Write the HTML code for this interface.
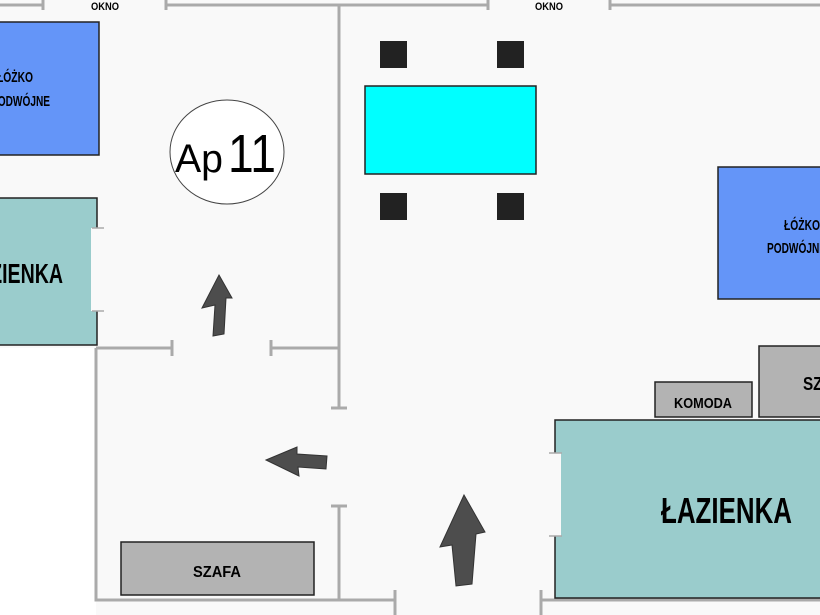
<!DOCTYPE html><html><head><style>body{margin:0;background:#fff}svg{display:block}
text.c{font-family:"Liberation Sans",sans-serif;font-weight:bold}</style></head><body>
<svg width="820" height="615" xmlns="http://www.w3.org/2000/svg">
<rect x="0" y="0" width="820" height="348" fill="#f9f9f9"/>
<rect x="96" y="348" width="724" height="267" fill="#f9f9f9"/>
<g stroke="#aaa" stroke-width="3" fill="none">
<path d="M0 5H43M43 0V10M166 0V10M166 5H488M488 0V10M610 0V10M610 5H820"/>
<path d="M339 5V408M331 408H347M331 506H347M339 506V600"/>
<path d="M96 348H172M172 340V356M271 340V356M271 348H339"/>
<path d="M96 348V600H395M395 590V615M541 590V615M541 600H820"/>
</g>
<text class="c" x="91" y="10" font-size="11" textLength="28" lengthAdjust="spacingAndGlyphs">OKNO</text>
<text class="c" x="535" y="10" font-size="11" textLength="28" lengthAdjust="spacingAndGlyphs">OKNO</text>
<rect x="-2" y="22" width="101" height="133" fill="#6495f8" stroke="#222" stroke-width="1.5"/>
<text class="c" x="-3" y="82" font-size="15" textLength="36" lengthAdjust="spacingAndGlyphs">ŁÓŻKO</text>
<text class="c" x="-9" y="106" font-size="15" textLength="59" lengthAdjust="spacingAndGlyphs">PODWÓJNE</text>
<rect x="-2" y="198" width="99" height="147" fill="#9acccc" stroke="#222" stroke-width="1.5"/>
<rect x="91" y="228" width="13" height="83" fill="#f9f9f9"/>
<text class="c" x="-36" y="283" font-size="28" textLength="99" lengthAdjust="spacingAndGlyphs">ŁAZIENKA</text>
<ellipse cx="227" cy="152" rx="57" ry="52" fill="#fff" stroke="#444"/>
<text x="175" y="172" font-size="40" style="font-family:'Liberation Sans',sans-serif;font-weight:normal" textLength="48" lengthAdjust="spacingAndGlyphs">Ap</text>
<text x="228" y="172" font-size="54" style="font-family:'Liberation Sans',sans-serif;font-weight:normal" textLength="48" lengthAdjust="spacingAndGlyphs">11</text>
<rect x="380" y="41" width="27" height="27" fill="#222"/><rect x="497" y="41" width="27" height="27" fill="#222"/>
<rect x="380" y="193" width="27" height="27" fill="#222"/><rect x="497" y="193" width="27" height="27" fill="#222"/>
<rect x="365" y="86" width="171" height="88" fill="#00ffff" stroke="#222" stroke-width="1.5"/>
<rect x="718" y="167" width="110" height="132" fill="#6495f8" stroke="#222" stroke-width="1.5"/>
<text class="c" x="784" y="230" font-size="15" textLength="36" lengthAdjust="spacingAndGlyphs">ŁÓŻKO</text>
<text class="c" x="767" y="253" font-size="15" textLength="59" lengthAdjust="spacingAndGlyphs">PODWÓJNE</text>
<rect x="655" y="382" width="97" height="35" fill="#b3b3b3" stroke="#222" stroke-width="1.5"/>
<text class="c" x="674" y="408" font-size="15" textLength="58" lengthAdjust="spacingAndGlyphs">KOMODA</text>
<rect x="759" y="346" width="70" height="71" fill="#b3b3b3" stroke="#222" stroke-width="1.5"/>
<text class="c" x="803" y="390" font-size="18" textLength="50" lengthAdjust="spacingAndGlyphs">SZAFA</text>
<rect x="555" y="420" width="275" height="178" fill="#9acccc" stroke="#222" stroke-width="1.5"/>
<rect x="548" y="453" width="13" height="83" fill="#f9f9f9"/>
<path d="M549 453H562M549 536H562" stroke="#aaa" stroke-width="1.5"/>
<path d="M92 228H104M92 311H104" stroke="#aaa" stroke-width="1.5"/>
<text class="c" x="661" y="523" font-size="36" textLength="131" lengthAdjust="spacingAndGlyphs">ŁAZIENKA</text>
<rect x="121" y="542" width="193" height="53" fill="#b3b3b3" stroke="#222" stroke-width="1.5"/>
<text class="c" x="193" y="577" font-size="16" textLength="48" lengthAdjust="spacingAndGlyphs">SZAFA</text>
<g fill="#4d4d4d" stroke="#333">
<polygon points="219,275 232,298 226,298 224,334 213,336 215,305 202,308"/>
<polygon points="266,460 297,447 297,454 327,456 326,469 298,467 299,476"/>
<polygon points="464,495 485,532 476,534 472,584 456,586 452,545 440,547"/>
</g>
</svg></body></html>
